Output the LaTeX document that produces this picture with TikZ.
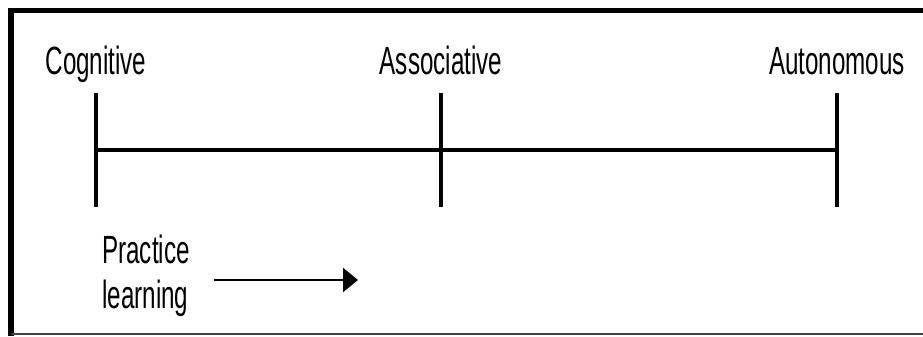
\documentclass[tikz,border=0pt]{standalone}
\usepackage{fontspec}
\setmainfont[FakeStretch=0.615]{Liberation Sans}
\usetikzlibrary{arrows.meta}

\begin{document}
\begin{tikzpicture}[
        stage/.style={anchor=base, inner sep=0pt, font=\fontsize{28}{31.9}\selectfont},
        tick/.style={line width=2.4pt},
    ]
        \useasboundingbox (0,0) rectangle (23.075,8.4);
        % frame
        \draw[line width=4pt] (0.275,0) -- (0.275,8.1375) -- (23.075,8.1375);
        \draw[line width=1pt, black!75] (0.275,0.05) -- (23.075,0.05);
        % stages
        \node[stage] (cog) at (2.4,6.525) {Cognitive};
        \node[stage] (assoc) at (11.025,6.525) {Associative};
        \node[stage] (auto) at (20.925,6.525) {Autonomous};
        \coordinate (cogTop) at (2.4,6.075);
        \coordinate (cogBot) at (2.4,3.225);
        \coordinate (assocTop) at (11.025,6.075);
        \coordinate (assocBot) at (11.025,3.225);
        \coordinate (autoTop) at (20.925,6.075);
        \coordinate (autoBot) at (20.925,3.225);
        \coordinate (cogMid) at (2.4,4.65);
        \coordinate (autoMid) at (20.925,4.65);
        \draw[tick] (cogTop) -- (cogBot);
        \draw[tick] (assocTop) -- (assocBot);
        \draw[tick] (autoTop) -- (autoBot);
        \draw[line width=3.4pt] (cogMid) -- (autoMid);
        % practice
        \node[stage, anchor=north west, align=left] (prac) at (2.55,2.53) {Practice\\learning};
        \coordinate (arrStart) at (5.35,1.4);
        \coordinate (arrEnd) at (8.95,1.4);
        \draw[line width=1.6pt, -{Triangle[length=0.375cm, width=0.6cm]}] (arrStart) -- (arrEnd);
\end{tikzpicture}
\end{document}
